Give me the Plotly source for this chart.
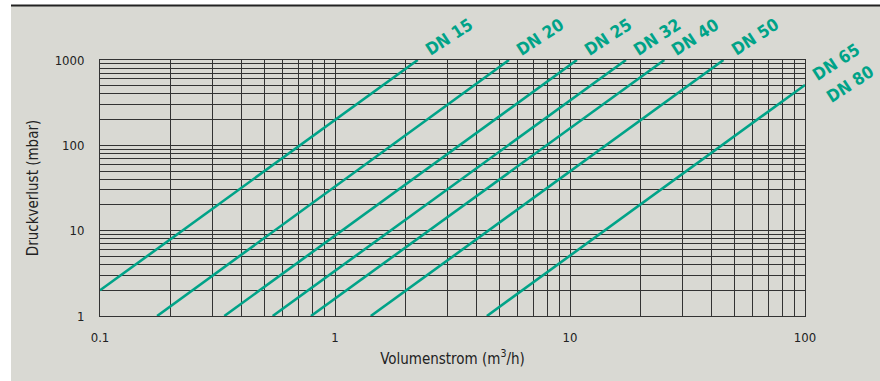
import math
import plotly.graph_objects as go

# ---- data (endpoints of each straight log-log line) ----
series_names = ["DN 15", "DN 20", "DN 25", "DN 32", "DN 40", "DN 50", "DN 65<br>DN 80"]
flow_start = [0.1, 0.175, 0.338, 0.543, 0.79, 1.42, 4.43]      # m3/h
flow_end = [2.25, 5.5, 10.7, 17.3, 25.2, 45.0, 100.0]          # m3/h
dp_start = [2.0, 1.0, 1.0, 1.0, 1.0, 1.0, 1.0]                  # mbar
dp_end = [1000.0, 1000.0, 1000.0, 1000.0, 1000.0, 1000.0, 510.0]  # mbar

x_tickvals = [0.1, 1, 10, 100]
x_ticktext = ["0.1", "1", "10", "100"]
y_tickvals = [1, 10, 100, 1000]
y_ticktext = ["1", "10", "100", "1000"]

# ---- style ----
BG = "#d9d9d3"
GREEN = "#00a388"
GRID = "#333333"
TXT = "#222222"
FONT = "DejaVu Sans Condensed, DejaVu Sans, sans-serif"

W, H = 880, 381
ML, MR, MT, MB = 100, 75, 60, 65
PW, PH = W - ML - MR, H - MT - MB

fig = go.Figure()
for i, name in enumerate(series_names):
    fig.add_trace(go.Scatter(
        x=[flow_start[i], flow_end[i]],
        y=[dp_start[i], dp_end[i]],
        mode="lines",
        line=dict(color=GREEN, width=2.6),
        name=name.replace("<br>", " "),
        showlegend=False,
        hoverinfo="skip",
        cliponaxis=False,
    ))

annotations = []
for i, name in enumerate(series_names):
    parts = name.split("<br>")
    for j, p in enumerate(parts):
        annotations.append(dict(
            x=math.log10(flow_end[i]), y=math.log10(dp_end[i]),
            xref="x", yref="y",
            text="<b>%s</b>" % p,
            showarrow=False,
            textangle=-33,
            xanchor="center", yanchor="middle",
            xshift=31 + 14 * j, yshift=23 - 22 * j,
            font=dict(family=FONT, size=17, color=GREEN),
        ))

def px_to_paper_x(px):
    return (px - ML) / PW

def px_to_paper_y(py):
    return (H - MB - py) / PH

shapes = [
    dict(type="rect", xref="paper", yref="paper",
         x0=px_to_paper_x(-5), x1=px_to_paper_x(11), y0=px_to_paper_y(H + 5), y1=px_to_paper_y(-5),
         fillcolor="white", line=dict(width=0), layer="below"),
    dict(type="rect", xref="paper", yref="paper",
         x0=px_to_paper_x(-5), x1=px_to_paper_x(W + 5), y0=px_to_paper_y(5), y1=px_to_paper_y(-5),
         fillcolor="white", line=dict(width=0), layer="below"),
    dict(type="line", xref="paper", yref="paper",
         x0=px_to_paper_x(11), x1=px_to_paper_x(W + 5), y0=px_to_paper_y(5.5), y1=px_to_paper_y(5.5),
         line=dict(color="#222222", width=2), layer="below"),
]

axis_common = dict(
    type="log",
    showgrid=True, gridcolor=GRID, gridwidth=1,
    showline=True, linecolor=GRID, linewidth=1, mirror=True,
    ticks="", zeroline=False,
    tickfont=dict(family=FONT, size=13, color=TXT),
    minor=dict(dtick="D1", showgrid=True, gridcolor=GRID, gridwidth=1, ticks=""),
)

fig.update_layout(
    width=W, height=H,
    margin=dict(l=ML, r=MR, t=MT, b=MB, pad=0),
    paper_bgcolor=BG, plot_bgcolor=BG,
    annotations=annotations,
    shapes=shapes,
    xaxis=dict(axis_common, range=[-1, 2], tickvals=x_tickvals, ticktext=x_ticktext,
               ticklabelstandoff=9,
               title=dict(text="Volumenstrom (m<sup>3</sup>/h)", standoff=9,
                          font=dict(family=FONT, size=15, color=TXT))),
    yaxis=dict(axis_common, range=[0, 3], tickvals=y_tickvals, ticktext=y_ticktext,
               ticklabelstandoff=12,
               title=dict(text="Druckverlust (mbar)", standoff=12,
                          font=dict(family=FONT, size=15, color=TXT))),
)

fig.write_html(
    "out.html",
    config={"displayModeBar": False, "staticPlot": True},
    post_script="document.body.style.margin='0';document.body.style.overflow='hidden';",
)
